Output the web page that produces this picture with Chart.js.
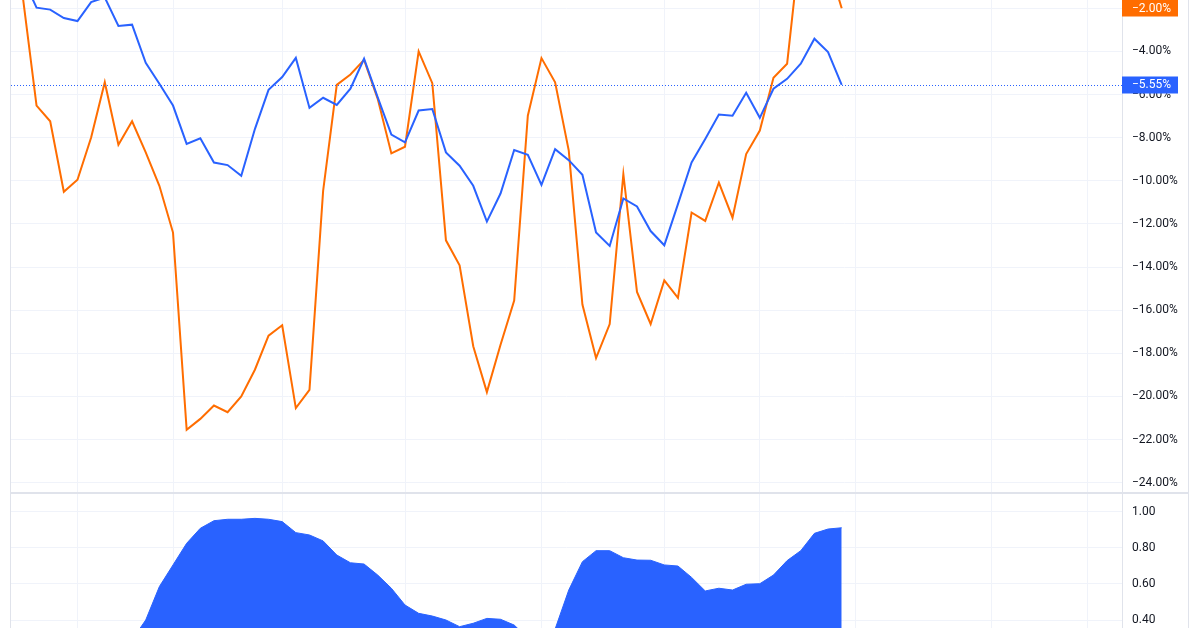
<!DOCTYPE html>
<html>
<head>
<meta charset="utf-8">
<script src="https://cdn.jsdelivr.net/npm/chart.js@4.4.1/dist/chart.umd.min.js"></script>
<style>
    html, body { margin:0; padding:0; background:#ffffff; }
    #wrap { position:relative; width:1200px; height:628px; overflow:hidden; background:#ffffff; }
    #priceChart { position:absolute; left:0; top:0; }
    #corrChart { position:absolute; left:0; top:494px; }
</style>
</head>
<body>
<div id="wrap">
    <canvas id="priceChart" width="1200" height="495"></canvas>
    <canvas id="corrChart" width="1200" height="134"></canvas>
</div>
<script>

// series values, one per bar (index 0..60)
const blueVals = [
    -0.6, -1.97, -2.06, -2.45, -2.59, -1.71, -1.5, -2.82, -2.76, -4.53,
    -5.50, -6.51, -8.29, -8.03, -9.15, -9.27, -9.77, -7.60, -5.78, -5.19,
    -4.30, -6.62, -6.15, -6.48, -5.73, -4.34, -6.13, -7.86, -8.22, -6.74,
    -6.67, -8.68, -9.30, -10.23, -11.89, -10.59, -8.57, -8.79, -10.19, -8.53,
    -9.04, -9.72, -12.40, -13.02, -10.82, -11.19, -12.33, -12.99, -11.08, -9.15,
    -8.06, -6.93, -6.98, -5.92, -7.08, -5.73, -5.27, -4.57, -3.41, -4.03,
    -5.55
]

const orangeVals = [
    -1.5, -6.51, -7.24, -10.51, -9.95, -7.99, -5.43, -8.33, -7.24, -8.68,
    -10.23, -12.40, -21.55, -21.04, -20.42, -20.73, -20.00, -18.76, -17.18, -16.70,
    -20.54, -19.69, -10.47, -5.55, -5.07, -4.39, -6.2, -8.73, -8.42, -4.00,
    -5.47, -12.76, -13.92, -17.67, -19.80, -17.6, -15.55, -6.98, -4.31, -5.43,
    -8.60, -15.74, -18.22, -16.64, -9.69, -15.15, -16.64, -14.62, -15.43, -11.47,
    -11.86, -10.08, -11.71, -8.76, -7.67, -5.22, -4.57, 1.2, 1.0, 0.1,
    -2.00
]

const corrVals = [
    null, null, null, null, null, null, null, null, 0.29, 0.40,
    0.585, 0.705, 0.825, 0.908, 0.950, 0.958, 0.958, 0.963, 0.958, 0.945,
    0.884, 0.871, 0.838, 0.760, 0.717, 0.710, 0.649, 0.576, 0.483, 0.437,
    0.422, 0.400, 0.363, 0.382, 0.409, 0.404, 0.372, 0.30, 0.29, 0.35,
    0.566, 0.723, 0.784, 0.784, 0.745, 0.732, 0.731, 0.705, 0.699, 0.636,
    0.561, 0.576, 0.566, 0.598, 0.601, 0.649, 0.729, 0.784, 0.880, 0.904,
    0.911
]

const barIndex = blueVals.map((_, i) => i)

// bars where the vertical time grid lines fall
const xGrid = [4, 11, 19, 28, 38, 47, 54, 61, 71, 78]

const priceTicks = [-2, -4, -6, -8, -10, -12, -14, -16, -18, -20, -22, -24]
const corrTicks = [1.0, 0.8, 0.6, 0.4]

const BLUE = '#2962FF'
const ORANGE = '#FF6D00'
const GRID = '#f0f3fa'
const FRAME = '#e0e3eb'
const FONT = { family: 'Roboto, "Liberation Sans", sans-serif', size: 12 }

function pct(v){
    return (v < 0 ? '\u2212' : '') + Math.abs(v).toFixed(2) + '%'
}

function xScale(){
    return {
        type: 'linear',
        min: -0.872,
        max: 80.54,
        ticks: { display: false },
        grid: { color: GRID, drawTicks: false },
        border: { display: false },
        afterBuildTicks: s => { s.ticks = xGrid.map(v => ({ value: v })) },
        afterFit: s => {
            s.height = 0
            s.paddingLeft = 0
            s.paddingRight = 0
        }
    }
}

// right-hand value axis, no extra room for the end labels
function yFit(s){
    s.width = 66
    s.paddingTop = 0
    s.paddingBottom = 0
}

function frameLines(chart){
    const ctx = chart.ctx
    const a = chart.chartArea
    const ys = chart.scales.y
    ctx.save()
    ctx.strokeStyle = FRAME
    ctx.lineWidth = 1
    ctx.beginPath()
    ctx.moveTo(a.left - 0.5, 0)
    ctx.lineTo(a.left - 0.5, chart.height)
    ctx.moveTo(ys.right + 0.5, 0)
    ctx.lineTo(ys.right + 0.5, chart.height)
    ctx.stroke()
    ctx.restore()
}

function valueTag(chart, value, color){
    const ctx = chart.ctx
    const ys = chart.scales.y
    const py = ys.getPixelForValue(value)
    ctx.save()
    ctx.fillStyle = color
    ctx.fillRect(ys.left, Math.round(py) - 8.5, 56, 17)
    ctx.fillStyle = '#ffffff'
    ctx.font = '12px ' + FONT.family
    ctx.textBaseline = 'middle'
    ctx.fillText(pct(value), ys.left + 10, py + 0.5)
    ctx.restore()
}

const priceDecor = {
    id: 'priceDecor',
    afterDraw(chart){
        const ctx = chart.ctx
        const a = chart.chartArea
        const ys = chart.scales.y
        frameLines(chart)

        // panel divider
        ctx.save()
        ctx.fillStyle = FRAME
        ctx.fillRect(a.left, chart.height - 3, ys.right - a.left, 2)

        // dotted line at last blue value
        const lastBlue = blueVals[blueVals.length - 1]
        const py = Math.round(ys.getPixelForValue(lastBlue)) + 0.5
        ctx.strokeStyle = BLUE
        ctx.lineWidth = 1
        ctx.setLineDash([1, 2])
        ctx.beginPath()
        ctx.moveTo(a.left, py)
        ctx.lineTo(a.right, py)
        ctx.stroke()
        ctx.restore()

        valueTag(chart, orangeVals[orangeVals.length - 1], ORANGE)
        valueTag(chart, lastBlue, BLUE)
    }
}

const corrDecor = {
    id: 'corrDecor',
    afterDraw(chart){
        frameLines(chart)
    }
}

new Chart(
    document.getElementById('priceChart'),
    {
        type: 'line',
        data: {
            labels: barIndex,
            datasets: [
                {
                    label: 'Blue',
                    data: blueVals,
                    borderColor: BLUE,
                    borderWidth: 2,
                    pointRadius: 0,
                    tension: 0,
                    order: 0
                },
                {
                    label: 'Orange',
                    data: orangeVals,
                    borderColor: ORANGE,
                    borderWidth: 2,
                    pointRadius: 0,
                    tension: 0,
                    order: 1
                }
            ]
        },
        options: {
            responsive: false,
            animation: false,
            events: [],
            layout: { padding: { left: 11, right: 12, top: 0, bottom: 0 } },
            plugins: { legend: { display: false }, tooltip: { enabled: false } },
            scales: {
                x: xScale(),
                y: {
                    position: 'right',
                    min: -24.57,
                    max: -1.615,
                    grid: { color: GRID, drawTicks: false },
                    border: { display: true, color: FRAME },
                    ticks: {
                        padding: 10,
                        color: '#131722',
                        font: FONT,
                        callback: v => pct(v)
                    },
                    afterBuildTicks: s => { s.ticks = priceTicks.map(v => ({ value: v })) },
                    afterFit: yFit
                }
            }
        },
        plugins: [priceDecor]
    }
)

new Chart(
    document.getElementById('corrChart'),
    {
        type: 'line',
        data: {
            labels: barIndex,
            datasets: [{
                label: 'Correlation',
                data: corrVals,
                borderColor: BLUE,
                backgroundColor: BLUE,
                borderWidth: 1,
                pointRadius: 0,
                tension: 0,
                fill: 'start'
            }]
        },
        options: {
            responsive: false,
            animation: false,
            events: [],
            layout: { padding: { left: 11, right: 12, top: 0, bottom: 0 } },
            plugins: { legend: { display: false }, tooltip: { enabled: false } },
            scales: {
                x: xScale(),
                y: {
                    position: 'right',
                    min: 0.3557,
                    max: 1.098,
                    grid: { color: GRID, drawTicks: false },
                    border: { display: true, color: FRAME },
                    ticks: {
                        padding: 10,
                        color: '#131722',
                        font: FONT,
                        callback: v => v.toFixed(2)
                    },
                    afterBuildTicks: s => { s.ticks = corrTicks.map(v => ({ value: v })) },
                    afterFit: yFit
                }
            }
        },
        plugins: [corrDecor]
    }
)

</script>
</body>
</html>
